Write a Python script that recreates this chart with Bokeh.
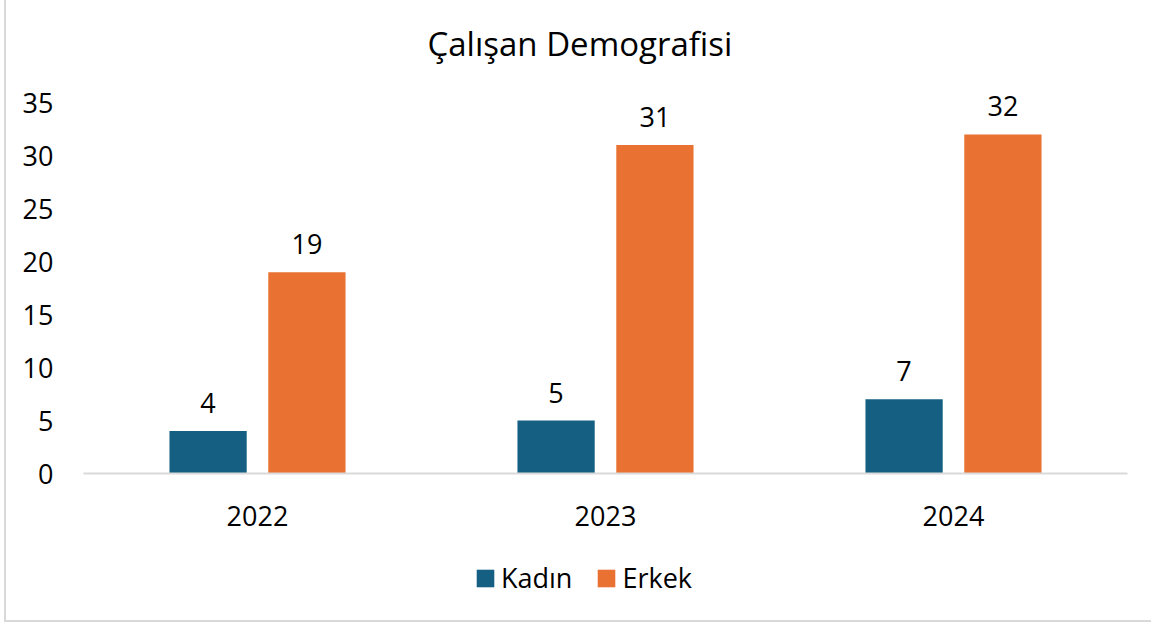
from bokeh.plotting import figure
from bokeh.layouts import column
from bokeh.models import ColumnDataSource, Range1d, FactorRange, FixedTicker, Legend, LegendItem
from bokeh.transform import dodge
from bokeh.core.properties import value
from bokeh.embed import file_html
from bokeh.resources import INLINE

years = ["2022", "2023", "2024"]
kadin = [4, 5, 7]
erkek = [19, 31, 32]
series_names = ["Kadın", "Erkek"]
y_ticks = [0, 5, 10, 15, 20, 25, 30, 35]

FONT = "Open Sans"
C_K = "#156082"
C_E = "#E97132"

src = ColumnDataSource(dict(
    year=years, kadin=kadin, erkek=erkek,
    kadin_lbl=[str(v) for v in kadin], erkek_lbl=[str(v) for v in erkek],
))

p = figure(width=1145, height=540, x_range=FactorRange(*years, range_padding=0),
           y_range=Range1d(0, 37), output_backend="svg", toolbar_location=None,
           min_border_left=77, min_border_right=24, min_border_top=81, min_border_bottom=67,
           title="Çalışan Demografisi")

p.title.text_font = FONT
p.title.text_font_size = "33px"
p.title.text_font_style = "normal"
p.title.align = "left"
p.title.offset = 344
p.title.text_color = "#000000"
p.title.standoff = 32

p.outline_line_color = None
p.xgrid.grid_line_color = None
p.ygrid.grid_line_color = None

p.yaxis.ticker = FixedTicker(ticks=y_ticks)
p.yaxis.axis_line_color = None
p.yaxis.major_tick_line_color = None
p.yaxis.minor_tick_line_color = None
p.yaxis.major_label_text_font = FONT
p.yaxis.major_label_text_font_size = "27px"
p.yaxis.major_label_text_color = "#000000"
p.yaxis.major_label_standoff = 24

p.xaxis.axis_line_color = "#d9d9d9"
p.xaxis.axis_line_width = 2
p.xaxis.major_tick_line_color = None
p.xaxis.minor_tick_line_color = None
p.xaxis.major_label_text_font = FONT
p.xaxis.major_label_text_font_size = "27px"
p.xaxis.major_label_text_color = "#000000"
p.xaxis.major_label_standoff = 26

p.vbar(x=dodge("year", -0.142, range=p.x_range), top="kadin", width=0.222,
       source=src, fill_color=C_K, line_color=None)
p.vbar(x=dodge("year", 0.142, range=p.x_range), top="erkek", width=0.222,
       source=src, fill_color=C_E, line_color=None)

p.text(x=dodge("year", -0.142, range=p.x_range), y="kadin", text="kadin_lbl", source=src,
       text_font=value(FONT), text_font_size="27px", text_align="center",
       text_baseline="bottom", y_offset=-18, text_color="#000000")
p.text(x=dodge("year", 0.142, range=p.x_range), y="erkek", text="erkek_lbl", source=src,
       text_font=value(FONT), text_font_size="27px", text_align="center",
       text_baseline="bottom", y_offset=-18, text_color="#000000")

# legend strip below the chart (proxy glyphs sit outside the strip's visible range)
lf = figure(width=1145, height=80, x_range=Range1d(0, 1), y_range=Range1d(0, 1),
            output_backend="svg", toolbar_location=None, min_border=0)
lf.axis.visible = False
lf.grid.visible = False
lf.outline_line_color = None
lk = lf.vbar(x=[-5], top=[0], width=0.1, fill_color=C_K, line_color=None)
le = lf.vbar(x=[-5], top=[0], width=0.1, fill_color=C_E, line_color=None)
legend = Legend(items=[LegendItem(label=series_names[0], renderers=[lk]),
                       LegendItem(label=series_names[1], renderers=[le])],
                orientation="horizontal", location=(391, 24),
                label_text_font=FONT, label_text_font_size="27px", label_text_color="#000000",
                glyph_width=22, glyph_height=22, label_standoff=5, spacing=23,
                padding=0, margin=0, border_line_color=None, background_fill_alpha=0)
lf.add_layout(legend, "center")

layout = column(p, lf, spacing=0)
layout.styles = {"border-left": "2px solid #d9d9d9", "border-bottom": "2px solid #d9d9d9",
                 "margin-left": "4px"}

open("out.html", "w").write(file_html(layout, INLINE))
